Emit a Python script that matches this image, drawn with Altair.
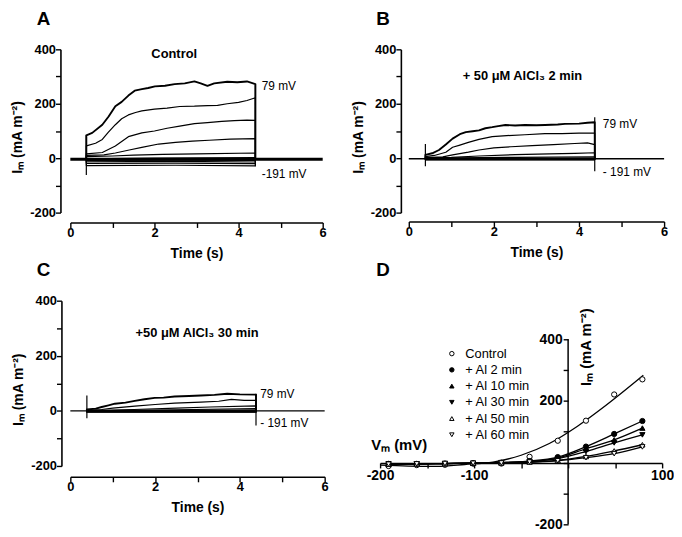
import altair as alt
import pandas as pd

FONT = "Liberation Sans"
IM = "Iₘ (mA m⁻²)"

# ---------------- Panel A : Control ----------------
A_T0, A_T1, A_BASE = 0.38, 4.40, -4
A_traces = {
    "79": ([0.38, 0.52, 0.76, 0.91, 1.07, 1.22, 1.38, 1.53, 1.70, 1.85, 2.01, 2.25, 2.48, 2.72, 2.95, 3.10, 3.26, 3.42, 3.73, 3.97, 4.20, 4.40],
           [84, 93, 123, 153, 191, 207, 230, 248, 254, 258, 264, 266, 272, 275, 282, 275, 266, 275, 281, 279, 282, 272]),
    "49": ([0.38, 0.60, 0.76, 0.90, 1.07, 1.22, 1.38, 1.55, 1.70, 2.00, 2.30, 2.60, 2.95, 3.26, 3.50, 3.73, 4.00, 4.20, 4.40],
           [45, 55, 69, 95, 123, 145, 159, 168, 174, 180, 184, 190, 191, 193, 194, 200, 205, 212, 222]),
    "19": ([0.38, 0.76, 1.07, 1.38, 1.70, 2.00, 2.30, 2.60, 2.95, 3.26, 3.60, 3.90, 4.20, 4.40],
           [16, 21, 45, 79, 93, 100, 110, 118, 127, 131, 135, 138, 140, 139]),
    "-11": ([0.38, 0.80, 1.07, 1.40, 1.70, 2.10, 2.50, 2.90, 3.30, 3.80, 4.40],
            [10, 12, 19, 30, 40, 52, 58, 63, 66, 70, 72]),
    "-41": ([0.38, 1.00, 1.50, 2.20, 3.00, 4.40], [6, 8, 11, 14, 16, 19]),
    "-71": ([0.38, 2.00, 4.40], [-2, 0, 2]),
    "-101": ([0.38, 2.50, 4.40], [-8, -7, -8]),
    "-131": ([0.38, 2.50, 4.40], [-13, -12, -14]),
    "-161": ([0.38, 2.50, 4.40], [-19, -18, -20]),
    "-191": ([0.38, 2.50, 4.40], [-27, -26, -28]),
}
A_trans_t = [0.38, 4.40]
A_trans_lo = [-62, -30]
A_trans_hi = [84, 272]

# ---------------- Panel B : + 50 uM AlCl3 2 min ----------------
B_T0, B_T1, B_BASE = 0.39, 4.37, -2
B_traces = {
    "79": ([0.39, 0.55, 0.71, 0.87, 1.03, 1.20, 1.34, 1.50, 1.65, 1.80, 1.96, 2.10, 2.27, 2.50, 2.73, 3.00, 3.20, 3.50, 3.67, 4.00, 4.20, 4.37],
           [12, 18, 30, 50, 72, 88, 96, 99, 102, 110, 114, 118, 122, 120, 122, 121, 122, 124, 126, 127, 130, 132]),
    "49": ([0.39, 0.60, 0.87, 1.03, 1.20, 1.40, 1.65, 1.96, 2.30, 2.73, 3.20, 3.60, 4.00, 4.37],
           [6, 10, 22, 40, 48, 58, 69, 79, 83, 86, 90, 90, 92, 92]),
    "19": ([0.39, 0.80, 1.03, 1.40, 1.65, 2.00, 2.40, 2.90, 3.40, 3.90, 4.20, 4.37],
           [2, 5, 12, 22, 30, 38, 42, 46, 50, 54, 56, 50]),
    "-11": ([0.39, 1.00, 1.65, 2.50, 3.30, 3.90, 4.37], [1, 3, 8, 13, 16, 18, 20]),
    "-41": ([0.39, 2.50, 4.37], [0, 3, 5]),
    "-71": ([0.39, 4.37], [-1, -1]),
    "-101": ([0.39, 4.37], [-3, -3]),
    "-131": ([0.39, 4.37], [-4, -4]),
    "-161": ([0.39, 4.37], [-5, -5]),
    "-191": ([0.39, 4.37], [-6, -6]),
}
B_trans_t = [0.39, 4.37]
B_trans_lo = [-30, -48]
B_trans_hi = [52, 150]

# ---------------- Panel C : + 50 uM AlCl3 30 min ----------------
C_T0, C_T1, C_BASE = 0.39, 4.38, 0
C_traces = {
    "79": ([0.39, 0.60, 0.74, 0.90, 1.05, 1.30, 1.52, 1.75, 1.99, 2.20, 2.46, 2.80, 3.08, 3.40, 3.70, 4.00, 4.38],
           [5, 8, 14, 20, 26, 30, 36, 42, 47, 48, 52, 54, 56, 58, 62, 60, 59]),
    "49": ([0.39, 0.74, 1.00, 1.52, 2.00, 2.46, 3.08, 3.50, 3.80, 4.10, 4.38],
           [2, 5, 10, 17, 23, 28, 32, 35, 42, 38, 38]),
    "19": ([0.39, 1.50, 2.50, 3.30, 4.38], [1, 5, 10, 14, 18]),
    "-11": ([0.39, 2.50, 4.38], [0, 4, 8]),
    "-41": ([0.39, 2.50, 4.38], [0, 2, 3]),
    "-71": ([0.39, 4.38], [-1, -1]),
    "-101": ([0.39, 4.38], [-2, -2]),
    "-131": ([0.39, 4.38], [-3, -3]),
    "-161": ([0.39, 4.38], [-4, -4]),
    "-191": ([0.39, 4.38], [-5, -5]),
}
C_trans_t = [0.39, 4.38]
C_trans_lo = [-27, -53]
C_trans_hi = [56, 62]

# ---------------- Panel D : I-V curves ----------------
D_V = [-191, -161, -131, -101, -71, -41, -11, 19, 49, 79]
D_series = ["Control", "+ Al 2 min", "+ Al 10 min", "+ Al 30 min", "+ Al 50 min", "+ Al 60 min"]
D_I = {
    "Control":     [-11, -8, -7, -3, -3, 19, 71, 136, 221, 270],
    "+ Al 2 min":  [-4, -4, -3, -2, 0, 5, 18, 52, 93, 135],
    "+ Al 10 min": [-4, -4, -3, -2, 0, 4, 15, 45, 74, 112],
    "+ Al 30 min": [-4, -4, -3, -2, 0, 4, 13, 36, 64, 90],
    "+ Al 50 min": [-5, -4, -3, -2, -1, 2, 7, 20, 38, 58],
    "+ Al 60 min": [-5, -4, -3, -2, -1, 2, 6, 16, 29, 51],
}
D_fit_V = [-200, -170, -140, -110, -80, -50, -20, 10, 40, 80]
D_fit_I = [-8, -11, -12, -6, 2, 24, 62, 118, 185, 283]
D_shapes = ["circle", "circle", "triangle-up", "triangle-down", "triangle-up", "triangle-down"]
D_fills = ["white", "black", "black", "black", "white", "white"]

LETTER_SIZE = 19


def trace_frame(traces, t0, t1, base):
    rows = []
    for name, (ts, vs) in traces.items():
        w = 1.9 if name == "79" else 1.2
        pts = [(t0, base)] + list(zip(ts, vs)) + [(t1, base)]
        for k, (t, v) in enumerate(pts):
            rows.append({"trace": name, "k": k, "t": t, "i": v, "w": w})
    return pd.DataFrame(rows)


def signed(expr_cond):
    return (f"{expr_cond} ? (datum.value < 0 ? '-' + toString(abs(datum.value)) : toString(datum.value)) : ''")


def trace_panel(traces, t0, t1, base, base_w, tt, tlo, thi, note, note_t, note_i,
                lab_t, lab_top_i, lab_bot_i, bot_text, letter, w, h, xoff, yoff, dx, toff):
    x = alt.X("t:Q", scale=alt.Scale(domain=[0, 6], nice=False),
              axis=alt.Axis(title="Time (s)", values=[0, 1, 2, 3, 4, 5, 6],
                            labelExpr=signed("datum.value % 2 == 0"), offset=xoff,
                            labelPadding=-1, titlePadding=7))
    y = alt.Y("i:Q", scale=alt.Scale(domain=[-200, 400], nice=False),
              axis=alt.Axis(title=IM, values=[-200, -100, 0, 100, 200, 300, 400],
                            labelExpr=signed("datum.value % 200 == 0"), offset=yoff,
                            labelPadding=0, titlePadding=5, titleY=h / 2 + 6))
    df = trace_frame(traces, t0, t1, base)
    lines = alt.Chart(df).mark_line(color="black", strokeJoin="round").encode(
        x=x, y=y, detail="trace:N", order="k:Q", strokeWidth=alt.StrokeWidth("w:Q", scale=None))
    bdf = pd.DataFrame({"t": [0, 6], "i": [base, base]})
    bline = alt.Chart(bdf).mark_line(color="black", strokeWidth=base_w).encode(x=x, y=y)
    trdf = pd.DataFrame({"t": tt, "i": tlo, "hi": thi})
    trans = alt.Chart(trdf).mark_rule(color="black", strokeWidth=1.2).encode(x=x, y=y, y2="hi:Q")
    ndf = pd.DataFrame({"t": [note_t], "i": [note_i], "label": [note]})
    ntxt = alt.Chart(ndf).mark_text(font=FONT, fontSize=13, fontWeight="bold", color="black").encode(
        x=x, y=y, text="label:N")
    ldf = pd.DataFrame({"t": [lab_t, lab_t], "i": [lab_top_i, lab_bot_i], "label": ["79 mV", bot_text]})
    ltxt = alt.Chart(ldf).mark_text(font=FONT, fontSize=12, align="left", color="black").encode(
        x=x, y=y, text="label:N")
    return alt.layer(bline, lines, trans, ntxt, ltxt).properties(
        width=w, height=h,
        title=alt.TitleParams(letter, anchor="start", frame="group", dx=dx, offset=toff,
                              font=FONT, fontSize=LETTER_SIZE, fontWeight="bold", color="black"))


A = trace_panel(A_traces, A_T0, A_T1, A_BASE, 3, A_trans_t, A_trans_lo, A_trans_hi,
                "Control", 2.47, 382, 4.55, 265, -58, "-191 mV", "A", 255, 165, 10, 10, -34, 15)
B = trace_panel(B_traces, B_T0, B_T1, B_BASE, 1.6, B_trans_t, B_trans_lo, B_trans_hi,
                "+ 50 μM AlCl₃ 2 min", 2.67, 302, 4.56, 127, -51, "- 191 mV", "B", 258, 165, 9, 8, -33, 15)
C = trace_panel(C_traces, C_T0, C_T1, C_BASE, 1.3, C_trans_t, C_trans_lo, C_trans_hi,
                "+50 μM AlCl₃ 30 min", 2.99, 281, 4.48, 60, -45, "- 191 mV", "C", 257, 167, 11, 9, -34, 15)

# ---- D ----
rows = []
for s in D_series:
    for v, cur in zip(D_V, D_I[s]):
        rows.append({"V": v, "I": cur, "series": s})
dfD = pd.DataFrame(rows)
fitD = pd.DataFrame({"V": D_fit_V, "I": D_fit_I})

xD = alt.X("V:Q", scale=alt.Scale(domain=[-200, 100], nice=False),
           axis=alt.Axis(title=None, values=[-200, -150, -100, -50, 0, 50, 100],
                         labelExpr=signed("(datum.value == -200 || datum.value == -100 || datum.value == 100)"),
                         offset=-62, labelFontSize=14, labelPadding=1))
yD = alt.Y("I:Q", scale=alt.Scale(domain=[-200, 525], nice=False),
           axis=alt.Axis(title=None, values=[-200, -100, 0, 100, 200, 300, 400], domain=False,
                         labelExpr=signed("(datum.value == -200 || datum.value == 200 || datum.value == 400)"),
                         offset=-190, labelFontSize=14, labelPadding=1))

yrule = alt.Chart(pd.DataFrame({"V": [0], "I": [-200], "I2": [400]})).mark_rule(
    color="black", strokeWidth=1.5).encode(x=xD, y=yD, y2="I2:Q")
fitline = alt.Chart(fitD).mark_line(color="black", strokeWidth=1.3, interpolate="monotone").encode(x=xD, y=yD)
allines = alt.Chart(dfD[dfD.series != "Control"]).mark_line(
    color="black", strokeWidth=1.3, interpolate="monotone").encode(x=xD, y=yD, detail="series:N")
leg = alt.Legend(title=None, orient="none", legendX=379, legendY=301, labelFont=FONT, labelFontSize=13,
                 labelFontWeight="normal", labelColor="black", symbolStrokeColor="black",
                 symbolStrokeWidth=1, symbolSize=20, rowPadding=2.4, padding=0, labelOffset=7)
pts = alt.Chart(dfD).mark_point(filled=True, strokeWidth=1, size=28, opacity=1).encode(
    x=xD, y=yD,
    shape=alt.Shape("series:N", sort=D_series, scale=alt.Scale(domain=D_series, range=D_shapes), legend=leg),
    fill=alt.Fill("series:N", sort=D_series, scale=alt.Scale(domain=D_series, range=D_fills), legend=leg),
    stroke=alt.Stroke("series:N", sort=D_series,
                      scale=alt.Scale(domain=D_series, range=["black"] * len(D_series)), legend=leg))
vm = alt.Chart(pd.DataFrame({"V": [-209.5], "I": [57], "label": ["Vₘ (mV)"]})).mark_text(
    font=FONT, fontSize=15, fontWeight="bold", align="left", color="black").encode(x=xD, y=yD, text="label:N")
imt = alt.Chart(pd.DataFrame({"V": [19], "I": [374], "label": [IM]})).mark_text(
    font=FONT, fontSize=15, fontWeight="bold", angle=270, color="black").encode(x=xD, y=yD, text="label:N")

D = alt.layer(yrule, fitline, allines, pts, vm, imt).properties(
    width=285, height=226,
    title=alt.TitleParams("D", anchor="start", frame="group", dx=-4, offset=21,
                          font=FONT, fontSize=LETTER_SIZE, fontWeight="bold", color="black"))

row1 = alt.hconcat(A, B, spacing=87, bounds="flush")
row2 = alt.hconcat(C, D, spacing=56, bounds="flush")
chart = alt.vconcat(row1, row2, spacing=254, bounds="flush").properties(
    padding={"left": 2, "top": -1, "right": 0, "bottom": 0}
).configure_view(stroke=None).configure_axis(
    labelFont=FONT, titleFont=FONT, labelFontSize=13, labelFontWeight="bold", titleFontSize=14,
    titleFontWeight="bold", domainColor="black", tickColor="black", labelColor="black", titleColor="black",
    domainWidth=1.6, tickWidth=1.4, tickSize=5, grid=False, labelFlush=False)

chart.save("out.html", embed_options={"renderer": "svg", "actions": False})
